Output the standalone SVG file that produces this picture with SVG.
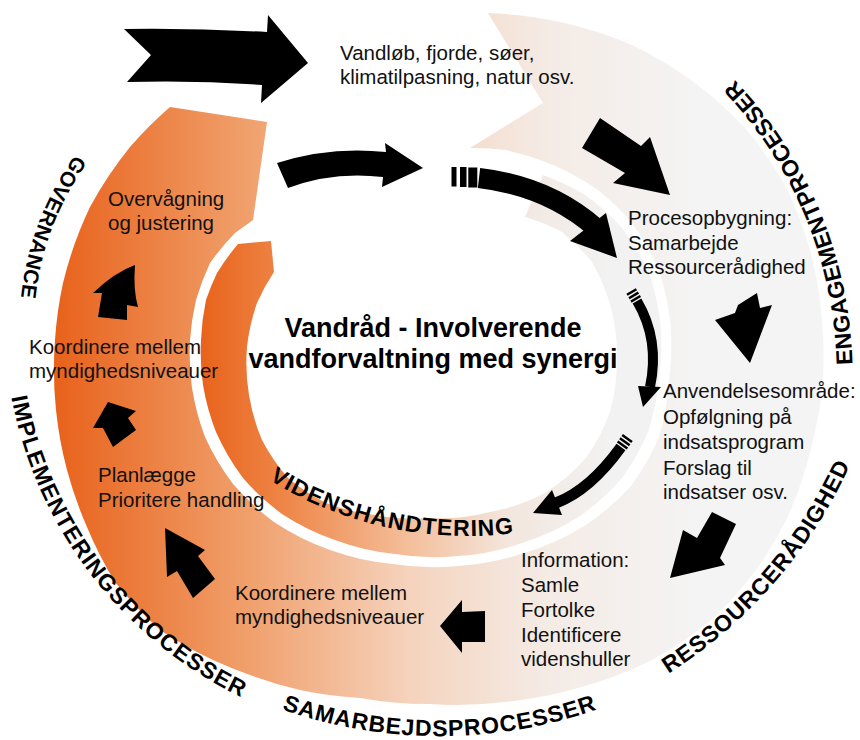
<svg xmlns="http://www.w3.org/2000/svg" xmlns:xlink="http://www.w3.org/1999/xlink" width="860" height="740" viewBox="0 0 860 740">
<style>
.t{font-family:"Liberation Sans",Arial,sans-serif;font-size:20.5px;fill:#111}
.ttl{font-family:"Liberation Sans",Arial,sans-serif;font-size:27px;font-weight:bold;fill:#000}
.lbl{font-family:"Liberation Sans",Arial,sans-serif;font-size:23px;font-weight:bold;fill:#000;dominant-baseline:central}
.ar{fill:#000}
.sh{fill:none;stroke:#000;stroke-linecap:butt}
</style>
<defs>
<linearGradient id="gOuter" gradientUnits="userSpaceOnUse" x1="55" y1="0" x2="700" y2="0">
<stop offset="0" stop-color="#e8621b"/>
<stop offset="0.3" stop-color="#f0a06c"/>
<stop offset="0.55" stop-color="#f5d3bd"/>
<stop offset="0.76" stop-color="#f4ebe5"/>
<stop offset="1" stop-color="#f4f4f4"/>
</linearGradient>
<linearGradient id="gInner" gradientUnits="userSpaceOnUse" x1="200" y1="0" x2="610" y2="0">
<stop offset="0" stop-color="#e8621b"/>
<stop offset="0.2" stop-color="#ee8546"/>
<stop offset="0.5" stop-color="#f4bd98"/>
<stop offset="0.75" stop-color="#f3e6dd"/>
<stop offset="1" stop-color="#f2f2f2"/>
</linearGradient>
<path id="pGov" d="M102,134 A290 290 0 0 0 27.5,330.5"/>
<path id="pImp" d="M15.1,369.2 A412 412 0 0 0 269.7,701"/>
<path id="pSam" d="M233.5,680.6 A470 470 0 0 0 645.5,680.6"/>
<path id="pRes" d="M616.7,693.6 A480 480 0 0 0 862.8,410.5"/>
<path id="pEng" d="M842.9,411.5 A420 420 0 0 0 694.5,53.2"/>
<path id="pVid" d="M244.6,453.5 A370 370 0 0 0 547.4,519.2"/>
</defs>
<rect width="860" height="740" fill="#fff"/>
<g id="bands">
<path id="outer-band" fill="url(#gOuter)" d="M488,13 A390 390 0 0 1 560,22 A390 390 0 0 1 632,45 A390 390 0 0 1 695,83 A390 390 0 0 1 745,128 A390 390 0 0 1 785,185 A390 390 0 0 1 810,250 A390 390 0 0 1 822,320 A390 390 0 0 1 822,390 A390 390 0 0 1 810,452 A390 390 0 0 1 790,512 A390 390 0 0 1 756,570 A390 390 0 0 1 710,621 A390 390 0 0 1 652,660 A390 390 0 0 1 578,688 A390 390 0 0 1 505,702 A390 390 0 0 1 430,704 A390 390 0 0 1 360,698 A390 390 0 0 1 300,690 A390 390 0 0 1 250,675 A390 390 0 0 1 213,660 A390 390 0 0 1 160,630 A390 390 0 0 1 115,582 A390 390 0 0 1 87,527 A390 390 0 0 1 67,470 A390 390 0 0 1 56,410 A390 390 0 0 1 55,340 A390 390 0 0 1 63,283 A390 390 0 0 1 90,207 A390 390 0 0 1 130,147 A390 390 0 0 1 170,107 L267,122 L253,220 L235,233 A250 250 0 0 0 210,263 A250 250 0 0 0 196,300 A250 250 0 0 0 190,340 A250 250 0 0 0 192,388 A250 250 0 0 0 205,437 A250 250 0 0 0 233,484 A250 250 0 0 0 274,522 A250 250 0 0 0 330,550 A250 250 0 0 0 393,564 A250 250 0 0 0 458,566 A250 250 0 0 0 524,553 A250 250 0 0 0 586,525 A250 250 0 0 0 631,486 A250 250 0 0 0 659,437 A250 250 0 0 0 669,380 A250 250 0 0 0 670,320 A250 250 0 0 0 658,268 A250 250 0 0 0 632,223 A250 250 0 0 0 598,190 A250 250 0 0 0 553,165 A250 250 0 0 0 505,150 A250 250 0 0 0 470,148 L543,103 Z"/>
<path id="inner-ring" fill="url(#gInner)" d="M543,175 A235 235 0 0 1 585,195 A235 235 0 0 1 622,228 A235 235 0 0 1 648,270 A235 235 0 0 1 660,320 A235 235 0 0 1 659,378 A235 235 0 0 1 648,432 A235 235 0 0 1 622,478 A235 235 0 0 1 580,516 A235 235 0 0 1 522,543 A235 235 0 0 1 458,556 A235 235 0 0 1 395,554 A235 235 0 0 1 335,540 A235 235 0 0 1 282,514 A235 235 0 0 1 243,478 A235 235 0 0 1 216,432 A235 235 0 0 1 203,385 A235 235 0 0 1 201,340 A235 235 0 0 1 206,300 A235 235 0 0 1 217,273 A235 235 0 0 1 238,244 L271,241 L274,272 A195 195 0 0 0 257,303 A195 195 0 0 0 247,347 A195 195 0 0 0 249,395 A195 195 0 0 0 262,440 A195 195 0 0 0 288,478 A195 195 0 0 0 326,503 A195 195 0 0 0 375,515 A195 195 0 0 0 430,518 A195 195 0 0 0 490,512 A195 195 0 0 0 545,493 A195 195 0 0 0 586,458 A195 195 0 0 0 610,412 A195 195 0 0 0 617,360 A195 195 0 0 0 611,308 A195 195 0 0 0 592,262 A195 195 0 0 0 562,232 A195 195 0 0 0 525,217 Z"/>
</g>
<g id="connectors">
<path class="ar" d="M124,29 Q195,28 267,32 L268,15 L308,63 L261,103 L262,85 Q195,80 127,82 L151,55 Z"/>
<path class="ar" d="M277,163 Q330,146 386,152 L385,143 L423,168 L382,187 L383,177 Q333,171 288,188 Z"/>
<g id="striped-arrow-1">
<rect class="ar" x="451.5" y="167" width="5" height="19.5"/>
<rect class="ar" x="460" y="167" width="6.5" height="20"/>
<rect class="ar" x="468.3" y="167.5" width="9" height="20"/>
<path class="sh" stroke-width="20" d="M479,178 Q548,186 596,228"/>
<polygon class="ar" points="570,241 606,213 617,258"/>
</g>
<g id="striped-arrow-2">
<path class="sh" stroke-width="2.5" d="M631,301.6 L640.4,296 M629,298.2 L638.4,292.6 M627,294.8 L636.4,289.2"/>
<path class="sh" stroke-width="10" d="M637,301 Q660,340 650,387"/>
<polygon class="ar" points="638,386 661,387 643,407"/>
</g>
<g id="striped-arrow-3">
<path class="sh" stroke-width="2.5" d="M617.6,441.5 L627.4,448.5 M619.9,438.2 L629.7,445.2 M622.2,435 L632,442"/>
<path class="sh" stroke-width="11" d="M621,447 Q590,490 556,503"/>
<polygon class="ar" points="552,490 562,515 533,513"/>
</g>
<polygon class="ar" points="600,118 641,146 650,137 670,195 613,183 625,173 582,148"/>
<polygon class="ar" points="738,305 757,293 760,308 772,305 750,363 715,320 735,313"/>
<polygon class="ar" points="712,512 736,524 720,558 725,565 670,578 683,530 697,538"/>
<polygon class="ar" points="440,626 462,600 462,612 485,611 485,642 462,642 462,653"/>
<polygon class="ar" points="165,528 205,550 198,556 215,579 193,598 177,571 167,577"/>
<polygon class="ar" points="108,402 136,411 128,418 136,430 113,447 103,428 93,428"/>
<path class="ar" d="M135,265 Q133,290 138,307 L127,305 L127,320 L98,317 L102,293 L93,293 Q115,272 135,265 Z"/>
</g>
<g id="node-title">
<text class="ttl" x="433" y="337" text-anchor="middle">Vandråd - Involverende</text>
<text class="ttl" x="433" y="368" text-anchor="middle">vandforvaltning med synergi</text>
</g>
<g id="node-vandlob">
<text class="t" x="340" y="60">Vandløb, fjorde, søer,</text>
<text class="t" x="340" y="84">klimatilpasning, natur osv.</text>
</g>
<g id="node-procesopbygning">
<text class="t" x="628" y="225">Procesopbygning:</text>
<text class="t" x="628" y="250">Samarbejde</text>
<text class="t" x="628" y="274">Ressourcerådighed</text>
</g>
<g id="node-anvendelse">
<text class="t" x="663" y="398">Anvendelsesområde:</text>
<text class="t" x="663" y="424">Opfølgning på</text>
<text class="t" x="663" y="449">indsatsprogram</text>
<text class="t" x="663" y="475">Forslag til</text>
<text class="t" x="663" y="499">indsatser osv.</text>
</g>
<g id="node-information">
<text class="t" x="521" y="567">Information:</text>
<text class="t" x="521" y="592">Samle</text>
<text class="t" x="521" y="617">Fortolke</text>
<text class="t" x="521" y="642">Identificere</text>
<text class="t" x="521" y="666">videnshuller</text>
</g>
<g id="node-koordinere-bund">
<text class="t" x="235" y="600">Koordinere mellem</text>
<text class="t" x="235" y="624">myndighedsniveauer</text>
</g>
<g id="node-planlaegge">
<text class="t" x="98" y="482">Planlægge</text>
<text class="t" x="98" y="507">Prioritere handling</text>
</g>
<g id="node-koordinere-venstre">
<text class="t" x="29" y="354">Koordinere mellem</text>
<text class="t" x="29" y="378">myndighedsniveauer</text>
</g>
<g id="node-overvaagning">
<text class="t" x="108" y="206">Overvågning</text>
<text class="t" x="108" y="230">og justering</text>
</g>
<g id="labels">
<text class="lbl" style="font-size:21px"><textPath href="#pGov" xlink:href="#pGov" startOffset="50%" text-anchor="middle">GOVERNANCE</textPath></text>
<text class="lbl" letter-spacing="0.72"><textPath href="#pImp" xlink:href="#pImp" startOffset="50%" text-anchor="middle">IMPLEMENTERINGSPROCESSER</textPath></text>
<text class="lbl" letter-spacing="0.57"><textPath href="#pSam" xlink:href="#pSam" startOffset="50%" text-anchor="middle">SAMARBEJDSPROCESSER</textPath></text>
<text class="lbl" letter-spacing="0.47"><textPath href="#pRes" xlink:href="#pRes" startOffset="50%" text-anchor="middle">RESSOURCERÅDIGHED</textPath></text>
<text class="lbl"><textPath href="#pEng" xlink:href="#pEng" startOffset="50%" text-anchor="middle">ENGAGEMENTPROCESSER</textPath></text>
<text class="lbl" letter-spacing="0.73"><textPath href="#pVid" xlink:href="#pVid" startOffset="50%" text-anchor="middle">VIDENSHÅNDTERING</textPath></text>
</g>
</svg>
